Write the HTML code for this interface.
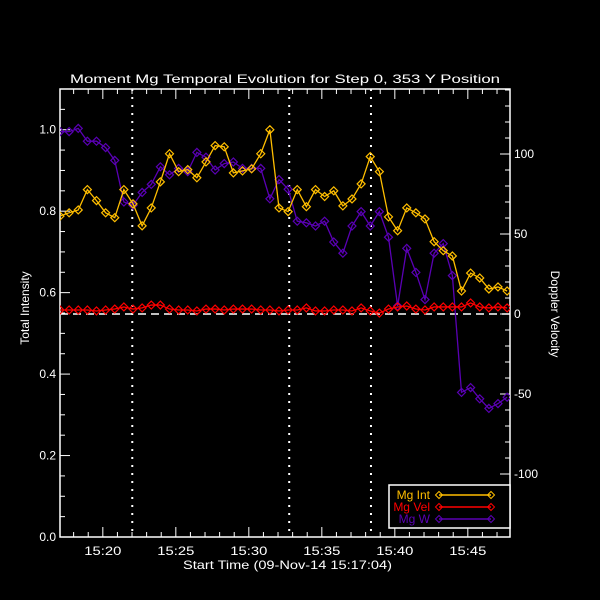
<!DOCTYPE html>
<html><head><meta charset="utf-8"><style>
html,body{margin:0;padding:0;background:#000;}
svg{display:block;}
text{font-family:"Liberation Sans",sans-serif;fill:#fff;font-size:12px;}
</style></head><body>
<svg id="chart" width="600" height="600" viewBox="0 0 600 600">
<rect width="600" height="600" fill="#000"/>
</svg>
<script>
// Data (time in minutes after 15:17:04)
const timeStep = 0.625;
const intensity = [0.788,0.796,0.803,0.853,0.826,0.796,0.784,0.853,0.818,0.764,0.808,0.872,0.941,0.897,0.902,0.882,0.921,0.961,0.958,0.894,0.899,0.904,0.941,1.0,0.808,0.799,0.853,0.811,0.853,0.836,0.850,0.813,0.830,0.867,0.934,0.897,0.786,0.752,0.808,0.796,0.781,0.725,0.703,0.690,0.604,0.648,0.636,0.609,0.614,0.604];
const velocity = [2.5,2.5,2.5,2.5,1.9,2.5,3.1,4.4,3.1,3.8,5.6,5.6,3.1,2.5,2.5,1.9,3.1,3.1,2.5,3.1,3.1,3.1,2.5,2.5,1.9,2.5,2.5,3.8,1.9,1.9,2.5,2.5,1.9,3.8,1.9,0.6,3.1,4.4,5.0,3.1,2.5,4.4,4.4,4.4,4.4,6.9,4.4,3.8,4.4,3.8];
const width = [114,114,116,108,108,104,96,70,68,76,81,92,87,91,89,101,98,90,94,95,91,91,91,72,84,78,58,57,55,58,45,38,55,64,55,64,48,5,41,26,9,38,44,24,-49,-46,-53,-59,-56,-52];
const xTickLabels = ["15:20","15:25","15:30","15:35","15:40","15:45"];
const xTickMinutes = [2.933,7.933,12.933,17.933,22.933,27.933];
const yLeftTicks = [0.0,0.2,0.4,0.6,0.8,1.0];
const yRightTicks = [-100,-50,0,50,100];
const markerMinutes = [4.95,15.7,21.3];

const L=60,R=510,T=89,B=537;
const xMax=(R-L)/14.6;
const X=t=>L+t*14.6;
const YL=v=>B-v*(B-T)/1.1;
const YR=v=>314-v*1.6;
const svg=document.getElementById('chart');
const NS='http://www.w3.org/2000/svg';
function mk(tag,attrs,parent){const e=document.createElementNS(NS,tag);for(const k in attrs)e.setAttribute(k,attrs[k]);(parent||svg).appendChild(e);return e;}

const frame=mk('rect',{x:L,y:T,width:R-L,height:B-T,fill:'none',stroke:'#fff','stroke-width':1.5});



const zl=mk('line',{x1:L,x2:R,y1:YR(0),y2:YR(0),stroke:'#fff','stroke-dasharray':'8,5','stroke-width':1.5});



markerMinutes.forEach(m=>{
 const l=mk('line',{x1:X(m),x2:X(m),y1:T,y2:B,stroke:'#fff','stroke-width':2,'stroke-dasharray':'2,6'});
 
 
});

const xt=mk('g',{});


for(let m=-0.067;m<=xMax;m+=1){
 const x=X(m);if(x<L)continue;
 const major=xTickMinutes.some(v=>Math.abs(v-m)<0.01);
 const len=major?10:5;
 mk('line',{x1:x,x2:x,y1:B,y2:B-len,stroke:'#fff'},xt);
 mk('line',{x1:x,x2:x,y1:T,y2:T+len,stroke:'#fff'},xt);
}
xTickMinutes.forEach((m,i)=>{
 const t=mk('text',{x:X(m),y:555,'text-anchor':'middle',textLength:37,lengthAdjust:'spacingAndGlyphs'},xt);t.textContent=xTickLabels[i];
 
 
});
const xtitle=mk('text',{x:183,y:569,textLength:209,lengthAdjust:'spacingAndGlyphs'});
xtitle.textContent='Start Time (09-Nov-14 15:17:04)';



const yl=mk('g',{});


for(let v=0;v<=1.1001;v+=0.05){
 const y=YL(v);const major=Math.abs(v*5-Math.round(v*5))<0.001;
 mk('line',{x1:L,x2:L+(major?10:5),y1:y,y2:y,stroke:'#fff'},yl);
}
yLeftTicks.forEach(v=>{
 const t=mk('text',{x:56,y:YL(v)+4,'text-anchor':'end'},yl);t.textContent=v.toFixed(1);
 
 
});
const ylt=mk('text',{x:0,y:0,'text-anchor':'middle',transform:'translate(29,308) rotate(-90)'});
ylt.textContent='Total Intensity';



const yr=mk('g',{});


for(let v=-130;v<=140;v+=10){
 const y=YR(v);if(y<T||y>B)continue;const major=v%50===0;
 mk('line',{x1:R,x2:R-(major?10:5),y1:y,y2:y,stroke:'#fff'},yr);
}
yRightTicks.forEach(v=>{
 const t=mk('text',{x:514,y:YR(v)+4,'text-anchor':'start'},yr);t.textContent=v;
 
 
});
const yrt=mk('text',{x:0,y:0,'text-anchor':'middle',transform:'translate(551,314) rotate(90)'});
yrt.textContent='Doppler Velocity';



const title=mk('text',{x:70,y:83,'font-size':'15',textLength:430,lengthAdjust:'spacingAndGlyphs'});
title.textContent='Moment Mg Temporal Evolution for Step 0, 353 Y Position';



const clip=mk('clipPath',{id:'pc'});mk('rect',{x:L,y:T,width:R-L,height:B-T},clip);
function series(vals,yf,color,name){
 const g=mk('g',{'clip-path':'url(#pc)'});
 
 
 const pts=vals.map((v,i)=>[X(i*timeStep),yf(v)]);
 mk('polyline',{points:pts.map(p=>p.join(',')).join(' '),fill:'none',stroke:color,'stroke-width':1.3},g);
 pts.forEach(p=>{
  const d=mk('path',{d:`M${p[0]-4},${p[1]} L${p[0]},${p[1]-4} L${p[0]+4},${p[1]} L${p[0]},${p[1]+4} Z`,fill:'none',stroke:color,'stroke-width':1.2},g);
  
  
 });
}
series(width,YR,'#5a00b4','mg-w-series');
series(intensity,YL,'#ffbe00','mg-int-series');
series(velocity,YR,'#ff0000','mg-vel-series');

const lg=mk('g',{});


mk('rect',{x:389,y:485,width:121,height:43,fill:'#000',stroke:'#fff','stroke-width':1.5},lg);
[['Mg Int','#ffbe00',495],['Mg Vel','#ff0000',507],['Mg W','#5a00b4',519]].forEach(([n,c,y])=>{
 const e=mk('g',{},lg);
 
 
 const t=mk('text',{x:430,y:y+4,'text-anchor':'end',fill:c},e);t.textContent=n;t.style.fill=c;
 mk('line',{x1:439,x2:491,y1:y,y2:y,stroke:c,'stroke-width':1.5},e);
 [439,491].forEach(x=>mk('path',{d:`M${x-3.5},${y} L${x},${y-3.5} L${x+3.5},${y} L${x},${y+3.5} Z`,fill:'none',stroke:c},e));
});
</script>
</body></html>
